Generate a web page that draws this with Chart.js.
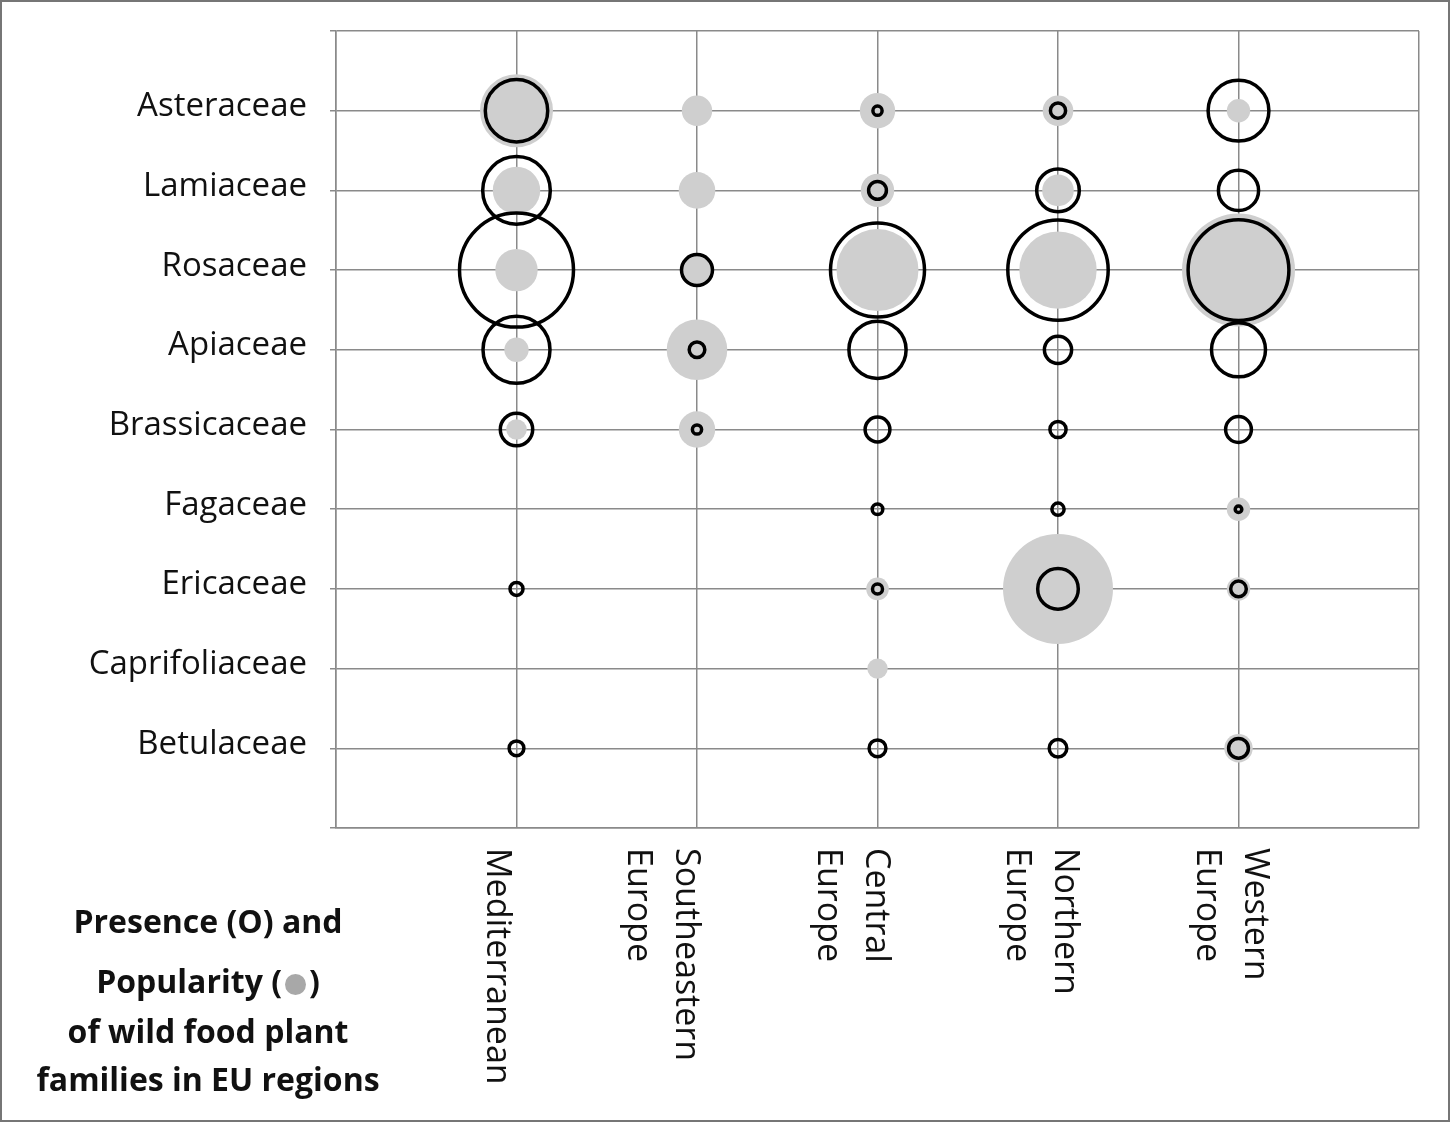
<!DOCTYPE html>
<html>
<head>
<meta charset="utf-8">
<script src="https://cdn.jsdelivr.net/npm/chart.js@4.4.1/dist/chart.umd.min.js"></script>
<style>
    html, body { margin: 0; padding: 0; background: #fff; }
    #frame {
        position: relative;
        width: 1446px;
        height: 1118px;
        border: 2px solid #767676;
        overflow: hidden;
    }
    #wrap {
        position: absolute;
        left: -2px;
        top: -2px;
        width: 1450px;
        height: 1122px;
    }
    .note {
        position: absolute;
        left: 6px;
        width: 400px;
        text-align: center;
        font-family: 'Open Sans', sans-serif;
        font-weight: bold;
        font-size: 32px;
        line-height: 40px;
        color: #111;
        white-space: nowrap;
    }
    .dot {
        display: inline-block;
        width: 21px;
        height: 21px;
        border-radius: 50%;
        background: #a8a8a8;
        vertical-align: -2px;
        margin: 0 3px;
    }
</style>
</head>
<body>
<div id="frame">
    <div id="wrap"><canvas id="bubbleChart" width="1450" height="1122"></canvas></div>
    <div class="note" style="top: 899px;">Presence (O) and</div>
    <div class="note" style="top: 959px;">Popularity (<span class="dot"></span>)</div>
    <div class="note" style="top: 1009px;">of wild food plant</div>
    <div class="note" style="top: 1057px;">families in EU regions</div>
</div>

<script>
// Plant families, top row first
const families = ['Asteraceae', 'Lamiaceae', 'Rosaceae', 'Apiaceae', 'Brassicaceae',
    'Fagaceae', 'Ericaceae', 'Caprifoliaceae', 'Betulaceae'];

// Regions (x categories), each label split in lines
const regions = [
    ['Mediterranean'],
    ['Southeastern', 'Europe'],
    ['Central', 'Europe'],
    ['Northern', 'Europe'],
    ['Western', 'Europe']
];

// Presence (open circles) - bubble radius per family, null = absent
const presenceMed      = [31.2, 33.8, 57.0, 33.5, 16.2, null, 6.5, null, 7.4];
const presenceSE       = [null, null, 15.5, 7.8, 4.6, null, null, null, null];
const presenceCentral  = [4.6, 8.9, 47.0, 28.6, 12.4, 5.3, 5.0, null, 8.4];
const presenceNorthern = [7.6, 21.3, 50.2, 13.6, 8.1, 6.1, 20.3, null, 8.8];
const presenceWestern  = [30.4, 20.1, 50.4, 27.0, 12.9, 3.3, 7.8, null, 9.9];

// Popularity (grey discs) - bubble radius per family, null = none
const popularityMed      = [36.5, 23.7, 21.2, 12.2, 10.3, null, null, null, null];
const popularitySE       = [15.2, 18.3, 15.5, 30.3, 18.2, null, null, null, null];
const popularityCentral  = [17.7, 16.7, 41.0, null, null, null, 11.3, 10.2, null];
const popularityNorthern = [15.3, 15.8, 38.7, null, null, null, 55.0, null, null];
const popularityWestern  = [11.7, null, 56.5, null, null, 11.7, 11.7, null, 14.2];

const presence = [presenceMed, presenceSE, presenceCentral, presenceNorthern, presenceWestern];
const popularity = [popularityMed, popularitySE, popularityCentral, popularityNorthern, popularityWestern];

function toPoints(table) {
    const pts = [];
    table.forEach((col, xi) => {
        col.forEach((r, fi) => {
            if (r !== null) {
                pts.push({ x: xi + 1, y: families.length - fi, r: r });
            }
        });
    });
    return pts;
}

const gridGrey = '#8a8a8a';
const textFont = "'Open Sans', sans-serif";

// x labels are written top-to-bottom (rotated clockwise), so draw them here
const regionLabels = {
    id: 'regionLabels',
    afterDraw(chart) {
        const ctx = chart.ctx;
        const xs = chart.scales.x;
        ctx.save();
        ctx.font = '34px ' + textFont;
        ctx.fillStyle = '#111';
        ctx.textAlign = 'left';
        ctx.textBaseline = 'middle';
        regions.forEach((lines, i) => {
            const gx = xs.getPixelForValue(i + 1);
            lines.forEach((txt, li) => {
                const cx = gx - 20 + 9 * i - 48 * li;
                ctx.save();
                ctx.translate(cx, 848);
                ctx.rotate(Math.PI / 2);
                ctx.fillText(txt, 0, 0);
                ctx.restore();
            });
        });
        ctx.restore();
    }
};

const ctx = document.getElementById('bubbleChart').getContext('2d');
new Chart(ctx, {
    type: 'bubble',
    data: {
        datasets: [
            {
                label: 'Popularity',
                data: toPoints(popularity),
                backgroundColor: '#cfcfcf',
                borderWidth: 0,
                hoverBorderWidth: 0,
                order: 2
            },
            {
                label: 'Presence',
                data: toPoints(presence),
                backgroundColor: 'rgba(0,0,0,0)',
                borderColor: '#000',
                borderWidth: 3.5,
                hoverBorderWidth: 3.5,
                order: 1
            }
        ]
    },
    options: {
        responsive: false,
        animation: false,
        events: [],
        layout: {
            autoPadding: false,
            padding: { left: 0, right: 31, top: 31, bottom: 0 }
        },
        plugins: {
            legend: { display: false },
            tooltip: { enabled: false }
        },
        scales: {
            x: {
                type: 'linear',
                min: 0,
                max: 6,
                afterFit: (scale) => { scale.height = 294; },
                ticks: { stepSize: 1, display: false },
                grid: {
                    color: gridGrey,
                    lineWidth: 1.5,
                    drawTicks: false
                },
                border: { color: gridGrey, width: 1.5 }
            },
            y: {
                type: 'linear',
                min: 0,
                max: 10,
                afterFit: (scale) => {
                    scale.width = 336;
                    scale.paddingTop = 0;
                    scale.paddingBottom = 0;
                },
                ticks: {
                    stepSize: 1,
                    padding: 23,
                    labelOffset: -4,
                    color: '#111',
                    font: { family: textFont, size: 33 },
                    callback: (v) => families[families.length - v] || ''
                },
                grid: {
                    color: gridGrey,
                    lineWidth: 1.5,
                    tickLength: 6
                },
                border: { color: gridGrey, width: 1.5 }
            }
        }
    },
    plugins: [regionLabels]
});
</script>
</body>
</html>
